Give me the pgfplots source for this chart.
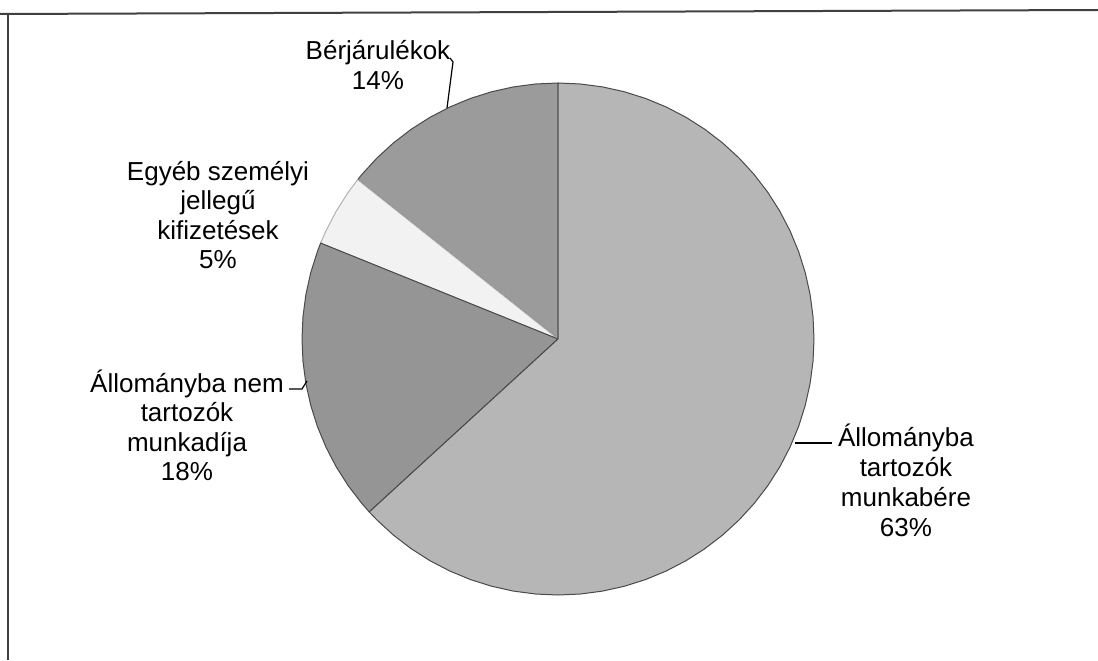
\documentclass[border=0pt]{standalone}
\usepackage{pgfplots}
\pgfplotsset{compat=1.18}
\usepgfplotslibrary{polar}
\usepackage{fontspec}
\setmainfont{Liberation Sans}
\definecolor{cBig}{HTML}{B6B6B6}
\definecolor{cNem}{HTML}{959595}
\definecolor{cBer}{HTML}{9B9B9B}
\definecolor{cEgy}{HTML}{F2F2F2}
\definecolor{cEdge}{HTML}{4A4A4A}
\begin{document}
\begin{tikzpicture}
\useasboundingbox (0,0) rectangle (549pt,330pt);
% frame (top and left edges visible in the scan)
\draw[black!75, line width=1pt] (0,323pt) -- (549pt,325pt);
\draw[black!75, line width=1pt] (4pt,0) -- (4pt,323pt);
% Pie: shares 63%, 18%, 5%, 14%; wedge outlines as (angle, radius) in a polar axis
\begin{polaraxis}[
  hide axis, clip=false, scale only axis,
  width=256pt, height=256pt,
  xmin=0, xmax=360, ymin=0, ymax=1,
  at={(279pt,160.5pt)}, anchor=center,
]
% Bérjárulékok 14%
\addplot[no marks, fill=cBer, draw=cEdge, line width=0.5pt] coordinates {
 (0,0) (90,1) (95,1) (100,1) (105,1) (110,1) (115,1) (120,1) (125,1) (130,1) (135,1) (140,1) (141.5,1)
} -- cycle;
% Egyéb személyi jellegű kifizetések 5%
\addplot[no marks, fill=cEgy, draw=black!30, line width=0.5pt] coordinates {
 (0,0) (141.5,1) (145,1) (150,1) (155,1) (158,1)
} -- cycle;
% Állományba nem tartozók munkadíja 18%
\addplot[no marks, fill=cNem, draw=cEdge, line width=0.5pt] coordinates {
 (0,0) (158,1) (160,1) (165,1) (170,1) (175,1) (180,1) (185,1) (190,1) (195,1) (200,1) (205,1) (210,1) (215,1) (220,1) (222.5,1)
} -- cycle;
% Állományba tartozók munkabére 63%
\addplot[no marks, fill=cBig, draw=cEdge, line width=0.5pt] coordinates {
 (0,0) (-137.5,1) (-135,1) (-130,1) (-125,1) (-120,1) (-115,1) (-110,1) (-105,1) (-100,1) (-95,1) (-90,1)
 (-85,1) (-80,1) (-75,1) (-70,1) (-65,1) (-60,1) (-55,1) (-50,1) (-45,1) (-40,1) (-35,1) (-30,1) (-25,1)
 (-20,1) (-15,1) (-10,1) (-5,1) (0,1) (5,1) (10,1) (15,1) (20,1) (25,1) (30,1) (35,1) (40,1) (45,1) (50,1)
 (55,1) (60,1) (65,1) (70,1) (75,1) (80,1) (85,1) (90,1)
} -- cycle;
\end{polaraxis}
% labels
\begin{scope}[every node/.style={anchor=base, inner sep=0pt, font=\fontsize{13}{15}\selectfont}]
\node at (189pt,300pt) {Bérjárulékok};
\node at (189pt,285pt) {14\%};
\node at (109pt,240pt) {Egyéb személyi};
\node at (109pt,225.25pt) {jellegű};
\node at (109pt,210.5pt) {kifizetések};
\node at (109pt,195.75pt) {5\%};
\node at (93.5pt,134pt) {Állományba nem};
\node at (93.5pt,119.25pt) {tartozók};
\node at (93.5pt,104.5pt) {munkadíja};
\node at (93.5pt,89.75pt) {18\%};
\node at (453pt,107pt) {Állományba};
\node at (453pt,92pt) {tartozók};
\node at (453pt,77pt) {munkabére};
\node at (453pt,62pt) {63\%};
\end{scope}
% leader lines
\draw[black, line width=0.6pt] (225pt,301pt) -- (226.5pt,299pt) -- (223.5pt,276pt);
\draw[black, line width=0.6pt] (144.5pt,135.5pt) -- (151pt,135.5pt) -- (153.5pt,139.5pt);
\draw[black, line width=0.6pt] (397.5pt,108.5pt) -- (416pt,108.5pt);
\end{tikzpicture}
\end{document}
